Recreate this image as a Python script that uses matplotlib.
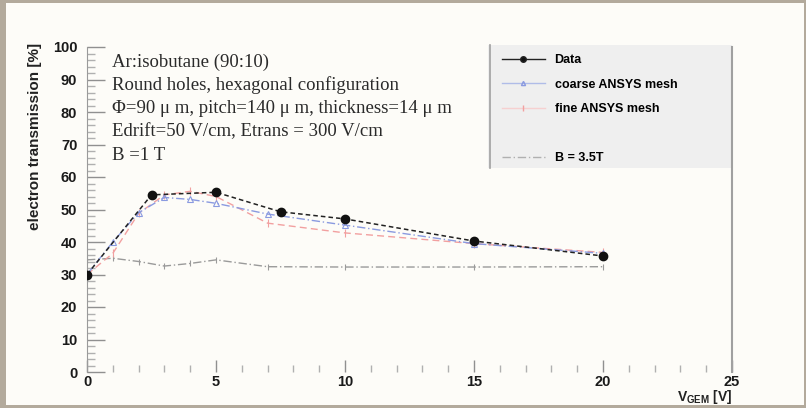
import matplotlib
matplotlib.use("Agg")
import matplotlib.pyplot as plt
from matplotlib.patches import Rectangle
from matplotlib.lines import Line2D
from matplotlib.ticker import MultipleLocator

# Measured transmission
v_data = [0, 2.5, 5, 7.5, 10, 15, 20]
t_data = [30, 54.5, 55.3, 49.3, 47.1, 40.3, 35.7]

# Simulation, coarse mesh
v_coarse = [0, 1, 2, 3, 4, 5, 7, 10, 15, 20]
t_coarse = [30, 40, 49, 53.7, 53.1, 51.9, 48.6, 45.2, 39.5, 36.5]

# Simulation, fine mesh
v_fine = [0, 1, 2, 3, 4, 5, 7, 10, 15, 20]
t_fine = [30, 36.5, 48.8, 54.5, 55.6, 54, 45.8, 42.8, 39.5, 36.8]

# Simulation at B = 3.5 T
v_b35 = [0, 1, 2, 3, 4, 5, 7, 10, 15, 20]
t_b35 = [34.5, 35, 34, 32.6, 33.4, 34.5, 32.4, 32.3, 32.3, 32.4]

legend_labels = ["Data", "coarse ANSYS mesh", "fine ANSYS mesh", "", "B = 3.5T"]
info_lines = [
    "Ar:isobutane (90:10)",
    "Round holes, hexagonal configuration",
    "\u03a6=90 \u03bc m, pitch=140 \u03bc m, thickness=14 \u03bc m",
    "Edrift=50 V/cm, Etrans = 300 V/cm",
    "B =1 T",
]

W, H = 806, 408
fig = plt.figure(figsize=(W / 100, H / 100), dpi=100, facecolor="#b3aa9c")
fig.patches.append(Rectangle((6 / W, 3 / H), (W - 8) / W, (H - 6) / H,
                             transform=fig.transFigure, facecolor="#fdfcf8",
                             edgecolor="none", zorder=-10))

ax = fig.add_axes([87 / W, 1 - 372 / H, 645 / W, 325 / H])
ax.set_facecolor("none")
ax.set_zorder(2)
ax.set_xlim(0, 25)
ax.set_ylim(0, 100)

ax.plot(v_b35, t_b35, color="#9a9a9a", lw=1.0, ls=(0, (6, 2, 1, 2)),
        marker="|", ms=5, mew=0.8, zorder=2)
ax.plot(v_fine, t_fine, color="#f2a0a0", lw=1.0, ls=(0, (5, 3)),
        marker="|", ms=6, mew=0.8, zorder=3)
ax.plot(v_coarse, t_coarse, color="#8a9ae0", lw=1.0, ls=(0, (6, 2, 1, 2)),
        marker="^", ms=4, mfc="none", mew=0.8, zorder=4)
ax.plot(v_data, t_data, color="#222222", lw=1.1, ls=(0, (3, 2)),
        marker="o", ms=6, mfc="#111111", mec="#111111", zorder=5)

for s in ("top", "bottom"):
    ax.spines[s].set_visible(False)
ax.spines["left"].set_color("#9a9a9a")
ax.spines["right"].set_color("#a0a0a0")
ax.spines["right"].set_linewidth(1.5)

ax.xaxis.set_major_locator(MultipleLocator(5))
ax.xaxis.set_minor_locator(MultipleLocator(1))
ax.yaxis.set_major_locator(MultipleLocator(10))
ax.yaxis.set_minor_locator(MultipleLocator(2))
ax.tick_params(axis="y", which="major", direction="in", length=13, width=1,
               color="#909090", pad=7)
ax.tick_params(axis="y", which="minor", direction="in", length=6, width=1,
               color="#b0b0b0")
ax.tick_params(axis="x", which="major", direction="in", length=9, width=1,
               color="#909090", pad=2)
ax.tick_params(axis="x", which="minor", direction="in", length=5, width=1,
               color="#b0b0b0")
ax.tick_params(right=False, top=False)
for lab in ax.get_xticklabels() + ax.get_yticklabels():
    lab.set_fontfamily("Liberation Sans")
    lab.set_fontweight("bold")
    lab.set_fontsize(10.5)
    lab.set_color("#1a1a1a")

fig.text(35 / W, 1 - 43 / H, "electron transmission [%]", rotation=90,
         ha="center", va="top", fontsize=11, fontweight="bold",
         family="Liberation Sans", color="#222222")

plt.rcParams["mathtext.fontset"] = "custom"
plt.rcParams["mathtext.bf"] = "Liberation Sans:bold"
plt.rcParams["mathtext.rm"] = "Liberation Sans:bold"
fig.text(732 / W, 1 - 397 / H, r"$\mathbf{V_{GEM}}$ [V]", ha="right",
         va="center", fontsize=10, fontweight="bold", family="Liberation Sans",
         color="#222222")

# Info block
for i, line in enumerate(info_lines):
    fig.text(112 / W, 1 - (62 + i * 23.3) / H, line, ha="left", va="center",
             fontsize=13.5, family="Liberation Serif", color="#2a2a2a")

# Legend panel
ax.add_patch(Rectangle((0.622, 0.628), 0.378, 0.378, transform=ax.transAxes,
                       facecolor="#efefef", edgecolor="none", clip_on=False,
                       zorder=1))
ax.add_line(Line2D([0.625, 0.625], [0.628, 1.006], transform=ax.transAxes,
                   color="#a0a0a0", lw=1.2, clip_on=False, zorder=1))
handles = [
    Line2D([], [], color="#222222", lw=1.0, marker="o", ms=4, mfc="#111111"),
    Line2D([], [], color="#b0bce8", lw=1.0, marker="^", ms=3, mfc="none",
           mec="#8a9ae0"),
    Line2D([], [], color="#f6d0d0", lw=1.0, marker="|", ms=5, mec="#f2a0a0"),
    Line2D([], [], color="none"),
    Line2D([], [], color="#b0b0b0", lw=1.0, ls=(0, (6, 2, 1, 2))),
]
leg = ax.legend(handles, legend_labels, loc="upper left",
                bbox_to_anchor=(0.63, 1.005), frameon=False,
                prop={"family": "Liberation Sans", "weight": "bold",
                      "size": 9},
                handlelength=3.4, handletextpad=0.8, labelspacing=1.0,
                borderaxespad=0.3)
leg.set_zorder(6)

fig.savefig("out.png", dpi=100, facecolor=fig.get_facecolor())
